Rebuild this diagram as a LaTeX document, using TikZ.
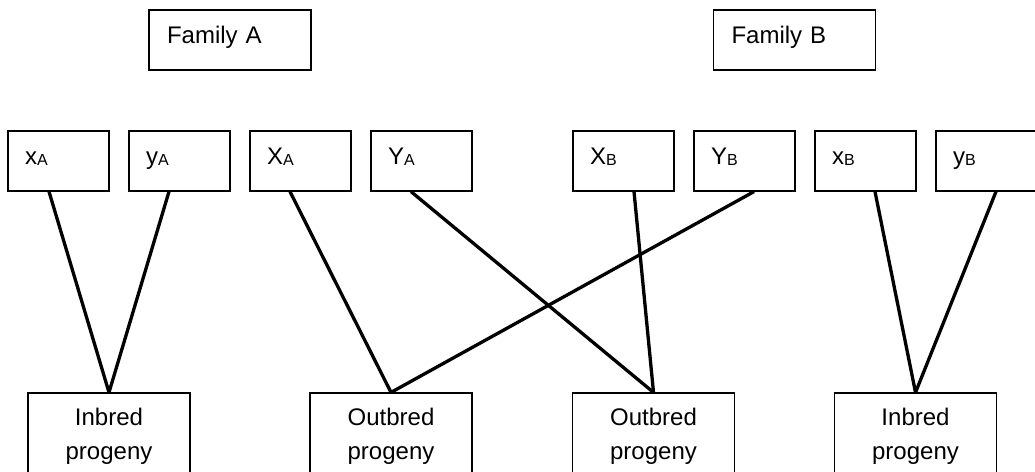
\documentclass[tikz,border=0pt]{standalone}
\usepackage{fontspec}
\setmainfont{Liberation Sans}
\usetikzlibrary{calc}
\newcommand{\lsub}[1]{{\fontsize{16}{16}\selectfont\raisebox{-1.5pt}{#1}}}
\tikzset{
  allele/.style={draw, line width=1.2pt, rectangle, inner ysep=0pt, inner xsep=17pt,
    text width=67pt, align=left, text height=33pt, text depth=27pt,
    font=\fontsize{24}{28}\selectfont},
  family/.style={draw, line width=1.2pt, rectangle, inner ysep=0pt, inner xsep=18pt,
    text width=126pt, align=left, text height=33pt, text depth=27pt,
    font=\fontsize{24}{28}\selectfont},
  progeny/.style={draw, line width=1.2pt, rectangle, inner ysep=0pt, inner xsep=10pt,
    text width=142pt, align=center, text height=32pt, text depth=58pt,
    font=\fontsize{24}{34}\selectfont},
  cross/.style={line width=3.3pt}
}
\begin{document}
\begin{tikzpicture}[x=1pt,y=-1pt]
\useasboundingbox (0,0) rectangle (1035,471);
\clip (0,0) rectangle (1035,471);
\node[family] (famA) at (230,40) {Family A};
\node[family] (famB) at (794.5,40) {Family B};

\node[allele] (xA) at (58.5,161) {x\lsub{A}};
\node[allele] (yA) at (179.5,161) {y\lsub{A}};
\node[allele] (XA) at (300.5,161) {X\lsub{A}};
\node[allele] (YA) at (421.5,161) {Y\lsub{A}};
\node[allele] (XB) at (623.5,161) {X\lsub{B}};
\node[allele] (YB) at (744.5,161) {Y\lsub{B}};
\node[allele] (xB) at (865.5,161) {x\lsub{B}};
\node[allele] (yB) at (986.5,161) {y\lsub{B}};

\node[progeny] (inA) at (109,438) {Inbred\\progeny};
\node[progeny] (outA) at (391,438) {Outbred\\progeny};
\node[progeny] (outB) at (653.5,438) {Outbred\\progeny};
\node[progeny] (inB) at (915.5,438) {Inbred\\progeny};

\draw[cross] ([xshift=-9.5pt]xA.south) -- (inA.north);
\draw[cross] ([xshift=-10.5pt]yA.south) -- (inA.north);
\draw[cross] ([xshift=-10.5pt]XA.south) -- (outA.north);
\draw[cross] ([xshift=-10.5pt]YA.south) -- (outB.north);
\draw[cross] ([xshift=10.5pt]XB.south) -- (outB.north);
\draw[cross] ([xshift=9.5pt]YB.south) -- (outA.north);
\draw[cross] ([xshift=9.5pt]xB.south) -- (inB.north);
\draw[cross] ([xshift=9.5pt]yB.south) -- (inB.north);
\end{tikzpicture}
\end{document}
